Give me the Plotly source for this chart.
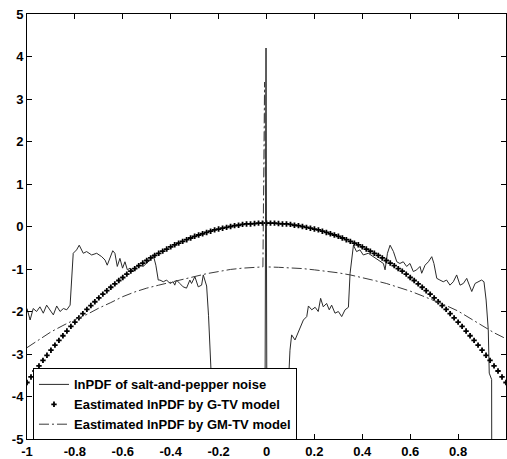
import numpy as np
import plotly.graph_objects as go

# ---- lnPDF of salt-and-pepper noise (solid); -8 stands for log(0), below the axis ----
noise_x = [-1.000, -0.987, -0.974, -0.960, -0.946, -0.932, -0.918, -0.904, -0.890, -0.876,
           -0.862, -0.848, -0.834, -0.820, -0.807, -0.793, -0.782, -0.765, -0.751, -0.730,
           -0.709, -0.688, -0.674, -0.665, -0.653, -0.642, -0.633, -0.623, -0.612, -0.601,
           -0.591, -0.581, -0.570, -0.556, -0.542, -0.528, -0.515, -0.501, -0.487, -0.473,
           -0.462, -0.452, -0.445, -0.431, -0.417, -0.403, -0.390, -0.383, -0.376, -0.362,
           -0.348, -0.334, -0.320, -0.313, -0.299, -0.285, -0.271, -0.264, -0.250, -0.242,
           -0.236, -0.229, -0.222, -0.218, -0.008, -0.002, 0.003, 0.092, 0.094, 0.098,
           0.105, 0.119, 0.140, 0.154, 0.168, 0.175, 0.189, 0.203, 0.216, 0.226,
           0.237, 0.251, 0.262, 0.272, 0.286, 0.300, 0.314, 0.328, 0.342, 0.349,
           0.363, 0.376, 0.390, 0.404, 0.425, 0.446, 0.467, 0.488, 0.495, 0.505,
           0.516, 0.530, 0.544, 0.557, 0.571, 0.585, 0.599, 0.613, 0.627, 0.641,
           0.648, 0.662, 0.676, 0.690, 0.699, 0.711, 0.724, 0.738, 0.752, 0.766,
           0.780, 0.794, 0.808, 0.822, 0.836, 0.850, 0.857, 0.871, 0.884, 0.898,
           0.908, 0.917, 0.926, 0.930, 0.940, 0.941, 1.000]
noise_y = [-1.93, -2.20, -1.93, -2.00, -1.89, -2.04, -1.85, -1.96, -2.08, -1.87,
           -2.00, -1.93, -1.96, -1.85, -0.63, -0.55, -0.44, -0.63, -0.59, -0.67,
           -0.63, -0.71, -0.79, -0.91, -0.71, -0.57, -0.63, -0.94, -0.75, -0.98,
           -0.83, -1.02, -0.98, -1.06, -0.94, -0.91, -0.94, -0.87, -0.79, -0.67,
           -0.91, -1.26, -1.26, -1.30, -1.26, -1.34, -1.30, -1.38, -1.26, -1.34,
           -1.42, -1.45, -1.26, -1.34, -1.18, -1.42, -1.38, -1.14, -1.40, -2.10,
           -2.80, -3.50, -4.60, -8.00, -8.00, 4.20, -8.00, -8.00, -3.40, -2.91,
           -2.55, -2.67, -2.36, -2.20, -2.12, -1.87, -1.96, -1.90, -2.00, -1.69,
           -1.89, -1.81, -1.96, -1.85, -2.04, -2.00, -2.12, -1.96, -1.90, -1.10,
           -0.44, -0.59, -0.55, -0.67, -0.63, -0.71, -0.79, -0.87, -1.02, -0.63,
           -0.44, -0.59, -0.83, -0.87, -0.83, -0.94, -0.87, -1.06, -1.02, -0.94,
           -1.10, -0.91, -0.83, -0.71, -0.87, -1.22, -1.26, -1.30, -1.26, -1.38,
           -1.30, -1.14, -1.38, -1.34, -1.22, -1.42, -1.53, -1.34, -1.30, -1.26,
           -1.30, -1.73, -2.43, -3.45, -3.60, -8.00, -8.00]

# ---- lnPDF estimated by the G-TV model (dotted), sampled every 1/60 ----
gtv_x = np.linspace(-1.0, 1.0, 121)
gtv_y = [-3.67, -3.54, -3.40, -3.28, -3.15, -3.03, -2.91, -2.79, -2.68, -2.57,
         -2.46, -2.35, -2.25, -2.15, -2.05, -1.95, -1.86, -1.77, -1.68, -1.59,
         -1.51, -1.43, -1.35, -1.27, -1.20, -1.12, -1.05, -0.99, -0.92, -0.86,
         -0.80, -0.74, -0.68, -0.63, -0.58, -0.53, -0.48, -0.43, -0.39, -0.35,
         -0.31, -0.27, -0.23, -0.20, -0.17, -0.14, -0.11, -0.08, -0.06, -0.04,
         -0.02, 0.00, 0.02, 0.03, 0.05, 0.06, 0.06, 0.07, 0.08, 0.08,
         0.08,
         0.08, 0.08, 0.07, 0.06, 0.06, 0.05, 0.03, 0.02, 0.00, -0.02,
         -0.04, -0.06, -0.08, -0.11, -0.14, -0.17, -0.20, -0.23, -0.27, -0.31,
         -0.35, -0.39, -0.43, -0.48, -0.53, -0.58, -0.63, -0.68, -0.74, -0.80,
         -0.86, -0.92, -0.99, -1.05, -1.12, -1.20, -1.27, -1.35, -1.43, -1.51,
         -1.59, -1.68, -1.77, -1.86, -1.95, -2.05, -2.15, -2.25, -2.35, -2.46,
         -2.57, -2.68, -2.79, -2.91, -3.03, -3.15, -3.28, -3.40, -3.54, -3.67]

# ---- lnPDF estimated by the GM-TV model (dash-dot) ----
gmtv_x = [-1.00, -0.95, -0.90, -0.85, -0.80, -0.75, -0.70, -0.65, -0.60, -0.55,
          -0.50, -0.45, -0.40, -0.35, -0.30, -0.25, -0.20, -0.15, -0.10, -0.05,
          -0.015, -0.008, -0.002, 0.05, 0.10, 0.15, 0.20, 0.25, 0.30, 0.35,
          0.40, 0.45, 0.50, 0.55, 0.60, 0.65, 0.70, 0.75, 0.80, 0.85,
          0.90, 0.95, 1.00]
gmtv_y = [-2.85, -2.66, -2.48, -2.33, -2.19, -2.07, -1.92, -1.79, -1.65, -1.54,
          -1.45, -1.38, -1.31, -1.24, -1.17, -1.11, -1.06, -1.01, -0.98, -0.96,
          -0.95, 3.40, -0.95, -0.96, -0.97, -0.99, -1.02, -1.05, -1.09, -1.14,
          -1.20, -1.27, -1.34, -1.43, -1.52, -1.63, -1.74, -1.86, -1.99, -2.15,
          -2.33, -2.50, -2.64]

x_ticks = [-1, -0.8, -0.6, -0.4, -0.2, 0, 0.2, 0.4, 0.6, 0.8, 1]
x_tick_labels = ["-1", "-0.8", "-0.6", "-0.4", "-0.2", "0", "0.2", "0.4", "0.6", "0.8", "1"]
y_ticks = [-5, -4, -3, -2, -1, 0, 1, 2, 3, 4, 5]
y_tick_labels = ["-5", "-4", "-3", "-2", "-1", "0", "1", "2", "3", "4", "5"]

FONT = "Liberation Sans, Arial, sans-serif"
TEXT_FONT = dict(family=FONT, size=13, color="black", weight="bold")

fig = go.Figure()
fig.add_trace(go.Scatter(
    x=noise_x, y=noise_y, mode="lines",
    name="lnPDF of salt-and-pepper noise",
    line=dict(color="#2a2a2a", width=1),
))
fig.add_trace(go.Scatter(
    x=gtv_x, y=gtv_y, mode="markers",
    name="Eastimated lnPDF by G-TV model",
    marker=dict(symbol="cross", size=4.5, color="black", line=dict(width=0)),
))
fig.add_trace(go.Scatter(
    x=gmtv_x, y=gmtv_y, mode="lines",
    name="Eastimated lnPDF by GM-TV model",
    line=dict(color="#3a3a3a", width=1, dash="10px,3px,2px,3px"),
))

axis_common = dict(
    ticks="inside", ticklen=5, tickwidth=1, tickcolor="black",
    showline=True, linecolor="black", linewidth=1, mirror="ticks",
    showgrid=False, zeroline=False,
    tickfont=TEXT_FONT,
)
fig.update_xaxes(range=[-1, 1], tickvals=x_ticks, ticktext=x_tick_labels, **axis_common)
fig.update_yaxes(range=[-5, 5], tickvals=y_ticks, ticktext=y_tick_labels, **axis_common)

fig.update_layout(
    width=507, height=459,
    margin=dict(l=27, r=1, t=14, b=20),
    paper_bgcolor="white", plot_bgcolor="white",
    font=dict(family=FONT, size=13, color="black"),
    showlegend=True,
    legend=dict(
        x=0.0125, y=0.166, xanchor="left", yanchor="top",
        bgcolor="white", bordercolor="black", borderwidth=1,
        font=TEXT_FONT,
        itemwidth=30, tracegroupgap=0,
    ),
)

fig.write_html("out.html")
